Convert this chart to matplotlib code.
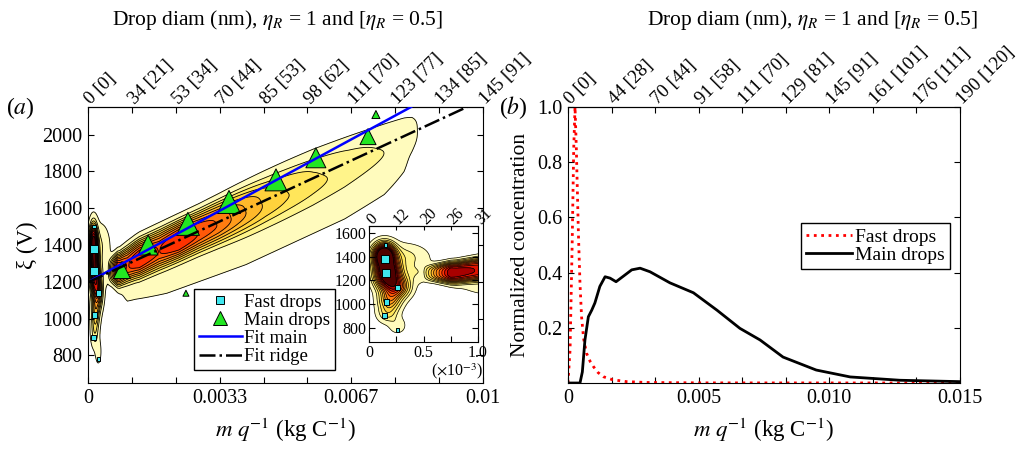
import numpy as np
import matplotlib
matplotlib.use("Agg")
import matplotlib.pyplot as plt
from matplotlib.lines import Line2D

plt.rcParams["font.family"] = ["Liberation Serif", "DejaVu Serif"]
plt.rcParams["mathtext.fontset"] = "stix"

# ---------------- panel (a): scatter data, m/q in kg/C, xi in V
FAST_X = [0.00015, 0.00015, 0.00016, 0.00026, 0.00016, 0.00014, 0.00026]
FAST_Y = [1500, 1380, 1260, 1140, 1020, 900, 780]
FAST_W = [3.5, 8, 8, 5.5, 5.5, 5, 3.5]          # marker width (px), ~ population
MAIN_X = [0.00086, 0.00152, 0.00253, 0.00357, 0.00476, 0.00577, 0.00709, 0.00729, 0.00248]
MAIN_Y = [1264, 1400, 1515, 1634, 1754, 1874, 1989, 2109, 1138]
MAIN_W = [17, 20, 23, 23, 22, 20, 16, 8, 6]
# linear fits: slope (V per kg/C), intercept (V), x range
FIT_MAIN = (116400, 1198, 0.0001, 0.00818)
FIT_RIDGE = (99300, 1197, 0.0, 0.0096)

# density map of (m/q, xi): ridge of main drops (m/q in 1e-3 kg/C)
CENTER_MX = [0.5, 0.8, 1.2, 9.0]
CENTER_Y = [1262, 1268, 1316, 2091]
CORE_MX = [0.5, 0.75, 1.0, 1.3, 1.8, 2.3, 2.8, 3.3, 3.8, 4.5, 5.0, 5.7, 6.6, 7.5, 8.2, 8.5]
CORE_AMP = [0.0, 0.6, 0.5, 0.58, 0.5, 0.58, 0.5, 0.44, 0.34, 0.22, 0.17, 0.12, 0.075, 0.045, 0.03, 0.0]
CORE_W = [45, 62, 68, 74, 76, 76, 78, 82, 88, 95, 98, 100, 95, 85, 70, 55]
SKIRT_MX = [0.6, 1.0, 2.0, 4.0, 6.5, 7.5, 8.0, 8.4]
SKIRT_AMP = [0.0, 0.035, 0.05, 0.055, 0.055, 0.045, 0.03, 0.0]
SKIRT_OFF = [-60, -70, -95, -130, -130, -115, -85, -60]
# fast drops column + neck: (mx, xi, sx, sy, amp)
BLOBS = [
    (0.14, 1410, 0.06, 60, 1.0),
    (0.17, 1265, 0.07, 75, 0.9),
    (0.25, 1150, 0.075, 60, 0.4),
    (0.19, 1035, 0.065, 60, 0.25),
    (0.17, 920, 0.06, 50, 0.1),
    (0.26, 820, 0.05, 45, 0.05),
    (0.3, 1400, 0.15, 70, 0.08),
    (0.45, 1262, 0.12, 55, 0.05),
]

TOP_A = ["0 [0]", "34 [21]", "53 [34]", "70 [44]", "85 [53]", "98 [62]",
         "111 [70]", "123 [77]", "134 [85]", "145 [91]"]
BOT_A = ["0", "", "", "0.0033", "", "", "0.0067", "", "", "0.01"]
TOP_IN = ["0", "12", "20", "26", "31"]
BOT_IN = ["0", "", "0.5", "", "1.0"]

# ---------------- panel (b): normalized concentration
FASTC_X = [0, 0.00008, 0.00016, 0.00022, 0.00027, 0.00032, 0.0004, 0.00046, 0.00052,
           0.0006, 0.00071, 0.00085, 0.00097, 0.00115, 0.00135, 0.0017, 0.00224,
           0.003, 0.005, 0.015]
FASTC_Y = [0, 0.12, 0.5, 0.85, 1.0, 0.85, 0.54, 0.36, 0.24, 0.16, 0.108, 0.078, 0.06,
           0.038, 0.023, 0.012, 0.005, 0.002, 0.0005, 0]
MAINC_X = [0, 0.00046, 0.00055, 0.00065, 0.00078, 0.00091, 0.00103, 0.00122, 0.00142,
           0.00161, 0.00184, 0.00212, 0.00244, 0.00276, 0.00314, 0.0039, 0.0048, 0.0057,
           0.00658, 0.00735, 0.00823, 0.0095, 0.0108, 0.0127, 0.015]
MAINC_Y = [0, 0, 0.04, 0.156, 0.24, 0.264, 0.29, 0.35, 0.385, 0.38, 0.367, 0.387, 0.41,
           0.416, 0.403, 0.363, 0.327, 0.264, 0.198, 0.156, 0.094, 0.047, 0.022, 0.01, 0.005]
TOP_B = ["0 [0]", "44 [28]", "70 [44]", "91 [58]", "111 [70]", "129 [81]", "145 [91]",
         "161 [101]", "176 [111]", "190 [120]"]
BOT_B = ["0", "", "", "0.005", "", "", "0.010", "", "", "0.015"]

PALETTE = ["#fffbbd", "#fff48a", "#ffe65a", "#ffd23c", "#ffb82a", "#ff9c1c", "#ff7c10",
           "#ff5808", "#ff3200", "#e01200", "#a80000", "#500000"]
LEV_MAIN = [0.02, 0.08, 0.14, 0.2, 0.27, 0.34, 0.41, 0.48, 0.54, 0.62, 0.75, 0.9, 5.0]
LEV_IN = [0.02, 0.06, 0.1, 0.15, 0.2, 0.25, 0.3, 0.36, 0.42, 0.48, 0.54, 0.62, 5.0]


def density(X, Y):
    mx = X * 1e3
    yc = np.interp(mx, CENTER_MX, CENTER_Y)
    amp = np.interp(mx, CORE_MX, CORE_AMP)
    w = np.interp(mx, CORE_MX, CORE_W)
    D = amp * np.exp(-0.5 * np.abs((Y - yc) / w) ** 3)
    sa = np.interp(mx, SKIRT_MX, SKIRT_AMP)
    so = np.interp(mx, SKIRT_MX, SKIRT_OFF)
    D += sa * np.exp(-0.5 * ((Y - yc - so) / 120) ** 2)
    for bx, by, sx, sy, a in BLOBS:
        D += a * np.exp(-0.5 * (((mx - bx) / sx) ** 2 + ((Y - by) / sy) ** 2))
    return D


def px2s(px):
    return (px * 0.72) ** 2


fig = plt.figure(figsize=(10.28, 4.53), dpi=100)
axA = fig.add_axes([0.0856, 0.1545, 0.3842, 0.6093])
axB = fig.add_axes([0.5525, 0.1545, 0.3813, 0.6093])
axI = fig.add_axes([0.359, 0.245, 0.106, 0.256])

TICK = dict(direction="in", length=4, width=0.8, top=False, right=True)
FS_TICK, FS_TOP, FS_LAB = 14.5, 13.5, 16.5
CYAN, GREEN = "#3fe6ee", "#22e622"

# ---- panel (a)
gx, gy = np.meshgrid(np.linspace(0, 0.01, 1001), np.linspace(650, 2150, 601))
D = density(gx, gy)
axA.contourf(gx, gy, D, levels=LEV_MAIN, colors=PALETTE, zorder=1)
axA.contour(gx, gy, D, levels=LEV_MAIN[:-1], colors="k", linewidths=0.6, zorder=2)
axA.scatter(FAST_X, FAST_Y, s=[px2s(w) for w in FAST_W], marker="s",
            c=CYAN, edgecolors="k", linewidths=0.7, zorder=4)
axA.scatter(MAIN_X, MAIN_Y, s=[px2s(w) for w in MAIN_W], marker="^",
            c=GREEN, edgecolors="k", linewidths=0.7, zorder=4)
xs = np.array(FIT_MAIN[2:])
hfm, = axA.plot(xs, FIT_MAIN[0] * xs + FIT_MAIN[1], color="#0000ff", lw=1.8, zorder=5)
xs = np.array(FIT_RIDGE[2:])
hfr, = axA.plot(xs, FIT_RIDGE[0] * xs + FIT_RIDGE[1], color="k", ls="-.", lw=1.8, zorder=5)
hf = Line2D([], [], ls="none", marker="s", ms=6, mfc=CYAN, mec="k", mew=0.7)
hm = Line2D([], [], ls="none", marker="^", ms=10, mfc=GREEN, mec="k", mew=0.7)
axA.set_xlim(0, 0.01)
axA.set_ylim(650, 2150)
ticksA = np.linspace(0, 0.01, 10)
axA.set_xticks(ticksA)
axA.set_xticklabels(BOT_A)
axA.set_yticks(range(800, 2001, 200))
axA.tick_params(labelsize=FS_TICK, pad=4, **TICK)
axA.set_ylabel("ξ (V)", fontsize=FS_LAB, labelpad=3)
axA.set_xlabel(r"$m\ q^{-1}$ (kg C$^{-1}$)", fontsize=FS_LAB, labelpad=6)
secA = axA.secondary_xaxis("top")
secA.set_xticks(ticksA)
secA.set_xticklabels(TOP_A, rotation=45, ha="left", va="center", rotation_mode="anchor")
secA.tick_params(direction="in", length=4, width=0.8, labelsize=FS_TOP, pad=4)
axA.legend([hf, hm, hfm, hfr], ["Fast drops", "Main drops", "Fit main", "Fit ridge"],
           loc="lower left", bbox_to_anchor=(0.268, 0.048), fontsize=13.5,
           fancybox=False, framealpha=1, edgecolor="k", borderpad=0.25,
           labelspacing=0.05, handlelength=2.3, handletextpad=0.15, borderaxespad=0)

# ---- inset
ix, iy = np.meshgrid(np.linspace(0, 0.001, 401), np.linspace(680, 1660, 401))
DI = density(ix, iy)
axI.set_facecolor("white")
axI.contourf(ix, iy, DI, levels=LEV_IN, colors=PALETTE, zorder=1)
axI.contour(ix, iy, DI, levels=LEV_IN[:-1], colors="k", linewidths=0.5, zorder=2)
axI.scatter(FAST_X, FAST_Y, s=[px2s(w) for w in FAST_W], marker="s",
            c=CYAN, edgecolors="k", linewidths=0.7, zorder=4)
axI.set_xlim(0, 0.001)
axI.set_ylim(680, 1660)
ticksI = np.linspace(0, 0.001, 5)
axI.set_xticks(ticksI)
axI.set_xticklabels(BOT_IN)
axI.set_yticks(range(800, 1601, 200))
axI.tick_params(labelsize=11.5, pad=2, **TICK)
secI = axI.secondary_xaxis("top")
secI.set_xticks(ticksI)
secI.set_xticklabels(TOP_IN, rotation=45, ha="left", va="center", rotation_mode="anchor")
secI.tick_params(direction="in", length=3, width=0.8, labelsize=11.5, pad=3)
fig.text(0.4445, 0.181, r"($\times$10$^{-3}$)", fontsize=11.5, ha="center", va="center")

# ---- panel (b)
axB.plot(FASTC_X, FASTC_Y, color="#ff0000", ls=":", lw=2.0, label="Fast drops")
axB.plot(MAINC_X, MAINC_Y, color="k", lw=2.0, label="Main drops")
axB.set_xlim(0, 0.015)
axB.set_ylim(0, 1)
ticksB = np.linspace(0, 0.015, 10)
axB.set_xticks(ticksB)
axB.set_xticklabels(BOT_B)
axB.set_yticks([0.2, 0.4, 0.6, 0.8, 1.0])
axB.set_yticklabels(["0.2", "0.4", "0.6", "0.8", "1.0"])
axB.tick_params(labelsize=FS_TICK, pad=4, **TICK)
axB.set_ylabel("Normalized concentration", fontsize=15.5, labelpad=5)
axB.set_xlabel(r"$m\ q^{-1}$ (kg C$^{-1}$)", fontsize=FS_LAB, labelpad=6)
secB = axB.secondary_xaxis("top")
secB.set_xticks(ticksB)
secB.set_xticklabels(TOP_B, rotation=45, ha="left", va="center", rotation_mode="anchor")
secB.tick_params(direction="in", length=4, width=0.8, labelsize=FS_TOP, pad=4)
axB.legend(loc="lower right", bbox_to_anchor=(0.974, 0.413), fontsize=14,
           fancybox=False, framealpha=1, edgecolor="k", borderpad=0.25,
           labelspacing=0.05, handlelength=2.4, handletextpad=0.15, borderaxespad=0)

title = r"Drop diam (nm), $\eta_R$ = 1 and [$\eta_R$ = 0.5]"
fig.text(0.2695, 0.956, title, fontsize=15.5, ha="center", va="center")
fig.text(0.790, 0.956, title, fontsize=15.5, ha="center", va="center")
fig.text(0.02, 0.762, r"($a$)", fontsize=17, ha="center", va="center")
fig.text(0.499, 0.762, r"($b$)", fontsize=17, ha="center", va="center")

fig.savefig("out.png", dpi=100)
